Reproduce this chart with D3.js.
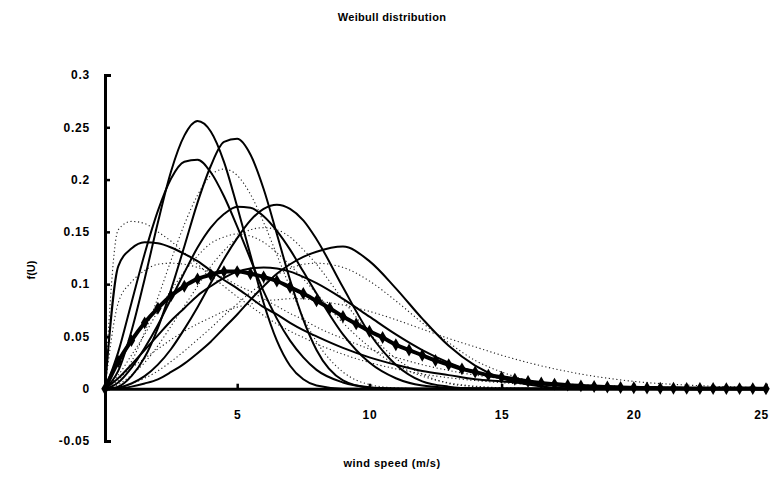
<!DOCTYPE html>
<html><head><meta charset="utf-8">
<script src="https://cdn.jsdelivr.net/npm/d3@7"></script>
<style>body{margin:0;background:#fff}svg{display:block}</style>
</head><body><svg id="c" width="772" height="487"></svg>
<script>
// ---- data ----
const title = "Weibull distribution";
const xLabel = "wind speed (m/s)";
const yLabel = "f(U)";
const xTicks = [5, 10, 15, 20, 25];
const xTickLabels = ["5", "10", "15", "20", "25"];
const yTicks = [-0.05, 0, 0.05, 0.1, 0.15, 0.2, 0.25, 0.3];
const yTickLabels = ["-0.05", "0", "0.05", "0.1", "0.15", "0.2", "0.25", "0.3"];

// wind speed sample points for the thin curves
const u = [0,0.5,1,1.5,2,2.5,3,3.5,4,4.5,5,5.5,6,6.5,7,7.5,8,9,10,11,12,13,14,15,16,17,18,20,22,25];

// solid curves
const s1 = [0,0.017,0.055,0.105,0.159,0.208,0.242,0.256,0.246,0.217,0.174,0.128,0.082,0.046,0.022,0.009,0.003,0,0,0,0,0,0,0,0,0,0,0,0,0];
const s2 = [0,0.002,0.012,0.030,0.058,0.095,0.136,0.178,0.213,0.236,0.239,0.224,0.191,0.148,0.104,0.066,0.037,0.008,0.001,0,0,0,0,0,0,0,0,0,0,0];
const s3 = [0,0.035,0.082,0.129,0.170,0.201,0.217,0.219,0.207,0.184,0.155,0.124,0.093,0.067,0.046,0.030,0.018,0.006,0.0015,0.0003,0,0,0,0,0,0,0,0,0,0];
const s4 = [0,0.117,0.134,0.140,0.139,0.135,0.129,0.122,0.113,0.104,0.096,0.087,0.078,0.071,0.063,0.056,0.050,0.039,0.030,0.023,0.017,0.013,0.009,0.007,0.005,0.0035,0.0025,0.0013,0.0006,0.0002];
const s5 = [0,0.006,0.020,0.039,0.061,0.086,0.111,0.135,0.154,0.167,0.174,0.173,0.165,0.151,0.133,0.112,0.091,0.052,0.025,0.010,0.003,0.001,0.0002,0,0,0,0,0,0,0];
const s6 = [0,0.001,0.005,0.012,0.023,0.038,0.057,0.078,0.101,0.124,0.144,0.161,0.172,0.176,0.172,0.161,0.143,0.097,0.053,0.023,0.007,0.002,0.0003,0,0,0,0,0,0,0];
const s7 = [0,0.0003,0.002,0.005,0.009,0.016,0.024,0.034,0.045,0.058,0.071,0.085,0.098,0.110,0.119,0.126,0.131,0.136,0.122,0.096,0.067,0.041,0.022,0.010,0.004,0.001,0.0003,0,0,0];
const s8 = [0,0.010,0.023,0.037,0.051,0.065,0.077,0.089,0.098,0.106,0.112,0.115,0.116,0.115,0.112,0.107,0.101,0.086,0.069,0.052,0.037,0.025,0.016,0.010,0.006,0.003,0.0016,0.0004,0.0001,0];
// dotted curves
const d1 = [0,0.008,0.026,0.054,0.087,0.123,0.157,0.185,0.204,0.210,0.204,0.186,0.159,0.128,0.097,0.068,0.045,0.016,0.004,0.0008,0,0,0,0,0,0,0,0,0,0];
const d2 = [0,0.152,0.160,0.158,0.150,0.141,0.130,0.119,0.108,0.098,0.088,0.079,0.070,0.062,0.055,0.049,0.043,0.033,0.025,0.019,0.014,0.0105,0.0078,0.0058,0.0042,0.0031,0.0022,0.0012,0.0006,0.0002];
const d3c = [0,0.004,0.013,0.025,0.041,0.060,0.079,0.098,0.117,0.132,0.144,0.152,0.154,0.152,0.145,0.133,0.119,0.085,0.053,0.029,0.014,0.005,0.002,0.0005,0.0001,0,0,0,0,0];
const d4 = [0,0.082,0.102,0.113,0.119,0.120,0.119,0.116,0.111,0.106,0.099,0.093,0.086,0.079,0.072,0.066,0.059,0.048,0.038,0.030,0.023,0.0175,0.013,0.0098,0.0072,0.0053,0.0038,0.0019,0.001,0.0003];
const d5 = [0,0.010,0.020,0.029,0.038,0.047,0.055,0.062,0.068,0.074,0.078,0.081,0.084,0.085,0.086,0.086,0.084,0.080,0.074,0.066,0.057,0.048,0.040,0.032,0.025,0.019,0.014,0.007,0.0035,0.001];
const d6 = [0,0.013,0.032,0.052,0.074,0.094,0.112,0.127,0.139,0.145,0.148,0.146,0.140,0.130,0.118,0.105,0.091,0.063,0.040,0.023,0.012,0.0056,0.0024,0.0009,0.0003,0,0,0,0,0];
const d7 = [0,0.0007,0.005,0.010,0.017,0.026,0.036,0.047,0.058,0.070,0.081,0.092,0.101,0.109,0.115,0.119,0.120,0.116,0.103,0.084,0.063,0.044,0.027,0.016,0.008,0.004,0.0016,0.0002,0,0];

// thick mean curve with diamond markers (every 0.5 m/s)
const uMean = d3.range(0, 25.001, 0.5);
const mean = [0,0.026,0.046,0.063,0.077,0.089,0.098,0.105,0.109,0.112,0.112,0.110,0.107,0.103,0.097,0.091,0.084,0.077,0.069,0.062,0.055,0.049,0.042,0.037,0.032,0.027,0.023,0.019,0.016,0.013,0.011,0.009,0.007,0.0055,0.0044,0.0034,0.0027,0.0021,0.0016,0.0012,0.0009,0.0007,0.0005,0.0004,0.0003,0.0002,0.0002,0.0001,0.0001,0.0001,0];

const solidSeries = [s4, s8, s7, s5, s6, s3, s1, s2];
const dottedSeries = [d2, d4, d5, d7, d6, d3c, d1];

// ---- drawing ----
const svg = d3.select("#c");
const x = d3.scaleLinear().domain([0, 25]).range([105, 766]);
const y = d3.scaleLinear().domain([-0.05, 0.3]).range([441, 75]);
const font = "'Liberation Sans', Arial, sans-serif";

const line = d3.line().x(d => x(d[0])).y(d => y(d[1])).curve(d3.curveMonotoneX);
const pairs = (xs, ys) => xs.map((v, i) => [v, ys[i]]);

const g = svg.append("g");
dottedSeries.forEach(s => {
  g.append("path").attr("d", line(pairs(u, s)))
    .attr("fill", "none").attr("stroke", "#222").attr("stroke-width", 1.1)
    .attr("stroke-dasharray", "1.2,2.6");
});
solidSeries.forEach(s => {
  g.append("path").attr("d", line(pairs(u, s)))
    .attr("fill", "none").attr("stroke", "#000").attr("stroke-width", 2);
});
const mp = pairs(uMean, mean);
g.append("path").attr("d", line(mp)).attr("fill", "none")
  .attr("stroke", "#000").attr("stroke-width", 4);
g.selectAll("path.dm").data(mp).join("path").attr("class", "dm")
  .attr("d", d3.symbol(d3.symbolDiamond, 48))
  .attr("transform", d => `translate(${x(d[0])},${y(d[1])})`)
  .attr("fill", "#000");

// axes
const yAxis = d3.axisLeft(y).tickValues(yTicks)
  .tickFormat((d, i) => yTickLabels[i]).tickSizeInner(-5).tickSizeOuter(-6).tickPadding(15);
const ya = svg.append("g").attr("transform", `translate(${x(0)},0)`).call(yAxis);
const xAxis = d3.axisBottom(x).tickValues(xTicks)
  .tickFormat((d, i) => xTickLabels[i]).tickSizeInner(-5).tickSizeOuter(0).tickPadding(22);
const xa = svg.append("g").attr("transform", `translate(0,${y(0)})`).call(xAxis);
[ya, xa].forEach(a => {
  a.select(".domain").attr("stroke", "#000").attr("stroke-width", 3);
  a.selectAll(".tick line").attr("stroke", "#000").attr("stroke-width", 2.5);
  a.selectAll("text").attr("font-family", font).attr("font-size", 12)
    .attr("font-weight", "bold").attr("fill", "#000").attr("letter-spacing", 0.8);
});
// keep the last x label inside the window
xa.selectAll(".tick text").filter(d => d === 25)
  .attr("text-anchor", "end").attr("letter-spacing", 0.4).attr("dx", 2);

svg.append("text").attr("x", 392).attr("y", 21).attr("text-anchor", "middle")
  .attr("font-family", font).attr("font-size", 11).attr("font-weight", "bold")
  .attr("letter-spacing", 0.3).text(title);
svg.append("text").attr("x", 392).attr("y", 467).attr("text-anchor", "middle")
  .attr("font-family", font).attr("font-size", 11).attr("font-weight", "bold")
  .attr("letter-spacing", 0.5).text(xLabel);
svg.append("text").attr("transform", "translate(35,270) rotate(-90)").attr("text-anchor", "middle")
  .attr("font-family", font).attr("font-size", 11).attr("font-weight", "bold")
  .text(yLabel);
</script></body></html>
